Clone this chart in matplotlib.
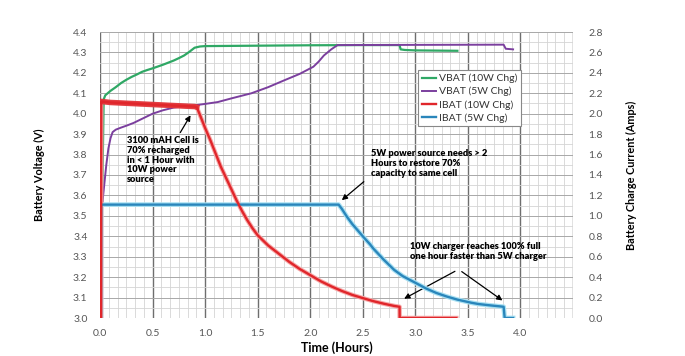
import numpy as np
import matplotlib
matplotlib.use("Agg")
import matplotlib.pyplot as plt
from matplotlib.ticker import MultipleLocator

# ---------------- data ----------------
t_v10 = [0.02, 0.035, 0.05, 0.1, 0.15, 0.2, 0.25, 0.3, 0.35, 0.4, 0.45, 0.5, 0.55, 0.6, 0.65, 0.7, 0.75, 0.8, 0.85,
         0.9, 0.95, 1.0, 1.5, 2.0, 2.5, 2.85, 2.86, 2.9, 3.0, 3.4]
v_v10 = [3.56, 4.07, 4.09, 4.112, 4.13, 4.15, 4.166, 4.18, 4.192, 4.205, 4.214, 4.222, 4.231, 4.24, 4.25, 4.26, 4.272,
         4.285, 4.303, 4.323, 4.329, 4.331, 4.333, 4.335, 4.336, 4.336, 4.315, 4.312, 4.31, 4.308]

t_v5 = [0.02, 0.04, 0.06, 0.08, 0.1, 0.12, 0.15, 0.2, 0.26, 0.32, 0.4, 0.5, 0.6, 0.7, 0.8, 0.9, 1.0, 1.12, 1.25, 1.44,
        1.6, 1.76, 1.9, 2.03, 2.08, 2.13, 2.2, 2.26, 3.0, 3.84, 3.86, 3.93]
v_v5 = [3.55, 3.65, 3.75, 3.83, 3.88, 3.91, 3.922, 3.932, 3.943, 3.955, 3.975, 4.0, 4.017, 4.03, 4.036, 4.041, 4.048,
        4.057, 4.075, 4.10, 4.13, 4.165, 4.195, 4.23, 4.255, 4.285, 4.315, 4.336, 4.337, 4.338, 4.318, 4.315]

t_i10 = [0.01, 0.012, 0.1, 0.3, 0.5, 0.7, 0.9, 0.92, 0.95, 1.0, 1.05, 1.1, 1.15, 1.2, 1.25, 1.3, 1.35, 1.4, 1.45, 1.5,
         1.6, 1.7, 1.8, 1.9, 2.0, 2.1, 2.2, 2.3, 2.4, 2.5, 2.6, 2.7, 2.8, 2.85, 2.851, 3.39]
i_i10 = [0.0, 2.12, 2.11, 2.10, 2.09, 2.08, 2.07, 2.065, 1.99, 1.86, 1.74, 1.61, 1.48, 1.37, 1.26, 1.15, 1.05, 0.96,
         0.88, 0.81, 0.71, 0.63, 0.55, 0.48, 0.42, 0.36, 0.31, 0.265, 0.226, 0.195, 0.165, 0.14, 0.118, 0.11, 0.0, 0.0]

t_i5 = [0.01, 0.012, 2.27, 2.30, 2.35, 2.4, 2.45, 2.5, 2.57, 2.6, 2.7, 2.8, 2.88, 3.0, 3.1, 3.2, 3.3, 3.4, 3.53, 3.6,
        3.7, 3.84, 3.85, 3.93]
i_i5 = [0.0, 1.11, 1.11, 1.07, 0.99, 0.92, 0.86, 0.80, 0.72, 0.68, 0.57, 0.47, 0.41, 0.345, 0.29, 0.245, 0.21, 0.18,
        0.15, 0.137, 0.125, 0.11, 0.0, 0.0]

series_labels = ["VBAT (10W Chg)", "VBAT (5W Chg)", "IBAT (10W Chg)", "IBAT (5W Chg)"]
x_ticks = [0.0, 0.5, 1.0, 1.5, 2.0, 2.5, 3.0, 3.5, 4.0, 4.5]
x_ticklabels = ["0.0", "0.5", "1.0", "1.5", "2.0", "2.5", "3.0", "3.5", "4.0", ""]
v_ticks = [3.0, 3.1, 3.2, 3.3, 3.4, 3.5, 3.6, 3.7, 3.8, 3.9, 4.0, 4.1, 4.2, 4.3, 4.4]
i_ticks = [0.0, 0.2, 0.4, 0.6, 0.8, 1.0, 1.2, 1.4, 1.6, 1.8, 2.0, 2.2, 2.4, 2.6, 2.8]

note1 = "3100 mAH Cell is\n70% recharged\nin < 1 Hour with\n10W power\nsource"
note2 = "5W power source needs > 2\nHours to restore 70%\ncapacity to same cell"
note3 = "10W charger reaches 100% full\none hour faster than 5W charger"

# ---------------- style ----------------
plt.rcParams['font.family'] = ['Lato', 'DejaVu Sans']
c_green = "#2fa865"
c_purple = "#7b3f9e"
c_red = "#e0262b"
c_blue = "#2a86bb"

fig = plt.figure(figsize=(6.85, 3.56), dpi=100)
ax = fig.add_axes([100/685, 1-318/356, (573-100)/685, (318-32)/356])
ax2 = ax.twinx()

ax.set_xlim(0, 4.5)
ax.set_ylim(3.0, 4.4)
ax2.set_ylim(0.0, 2.8)

# grid
ax.xaxis.set_minor_locator(MultipleLocator(0.5/6))
ax.yaxis.set_minor_locator(MultipleLocator(0.05))
ax.set_xticks(x_ticks, x_ticklabels)
ax.set_yticks(v_ticks, [f"{v:.1f}" for v in v_ticks])
ax2.set_yticks(i_ticks, [f"{v:.1f}" for v in i_ticks])
ax.grid(which='minor', color='#d4d4d4', lw=0.6)
ax.grid(which='major', axis='y', color='#a8a8a8', lw=0.7)
ax.grid(which='major', axis='x', color='#6e6e6e', lw=1.0)
ax.set_axisbelow(True)
for a in (ax, ax2):
    for s in a.spines.values():
        s.set_visible(False)
    a.tick_params(which='both', length=0)
ax.tick_params(axis='both', labelsize=7.5, labelcolor='#555555', pad=9)
ax2.tick_params(axis='y', labelsize=7.5, labelcolor='#555555', pad=11)
ax.tick_params(axis='x', pad=8)

# lines
l1, = ax.plot(t_v10, v_v10, color=c_green, lw=1.6, solid_joinstyle='round')
l2, = ax.plot(t_v5, v_v5, color=c_purple, lw=1.4, solid_joinstyle='round')
# light halos
ax2.plot(t_i5, i_i5, color='#a8e0f2', lw=3.4, solid_joinstyle='round')
ax2.plot(t_i10, i_i10, color='#f6a8a8', lw=3.2, solid_joinstyle='round')
# noisy flat band of 10W current drawn thicker
ax2.plot(t_i10[1:8], i_i10[1:8], color=c_red, lw=4.0, alpha=0.85)
l4, = ax2.plot(t_i5, i_i5, color=c_blue, lw=1.7, solid_joinstyle='round')
l3, = ax2.plot(t_i10, i_i10, color=c_red, lw=1.7, solid_joinstyle='round')

# axis labels
ax.set_xlabel("Time (Hours)", fontsize=9, fontweight='bold', labelpad=2)
ax.set_ylabel("Battery Voltage (V)", fontsize=7.8, fontweight='bold', labelpad=20)
ax2.set_ylabel("Battery Charge Current (Amps)", fontsize=7.8, fontweight='bold', labelpad=17)

# legend
leg = ax2.legend([l1, l2, l3, l4], series_labels, loc='upper left',
                 bbox_to_anchor=(418/685, 1-70/356), bbox_transform=fig.transFigure,
                 fontsize=7.5, frameon=True, fancybox=False, framealpha=1,
                 edgecolor='#888888', handlelength=1.4, handletextpad=0.25,
                 labelspacing=0.35, borderpad=0.35, borderaxespad=0)
leg.get_frame().set_linewidth(0.8)
for txt in leg.get_texts():
    txt.set_color('#333333')

# annotations
akw = dict(arrowstyle='-|>', color='black', lw=0.9, mutation_scale=8)
tkw = dict(fontsize=6.7, fontweight='heavy', va='top', ha='left', linespacing=1.1)
ax.text(0.26, 3.89, note1, **tkw)
ax.annotate("", xy=(0.875, 4.004), xytext=(0.75, 3.896), arrowprops=akw)
ax.text(2.58, 3.825, note2, **tkw)
ax.annotate("", xy=(2.28, 3.568), xytext=(2.53, 3.676), arrowprops=akw)
ax.text(2.95, 3.37, note3, **tkw)
ax.annotate("", xy=(2.87, 3.088), xytext=(3.40, 3.235), arrowprops=akw)
ax.annotate("", xy=(3.85, 3.078), xytext=(3.42, 3.235), arrowprops=akw)

fig.savefig("out.png", dpi=100)
